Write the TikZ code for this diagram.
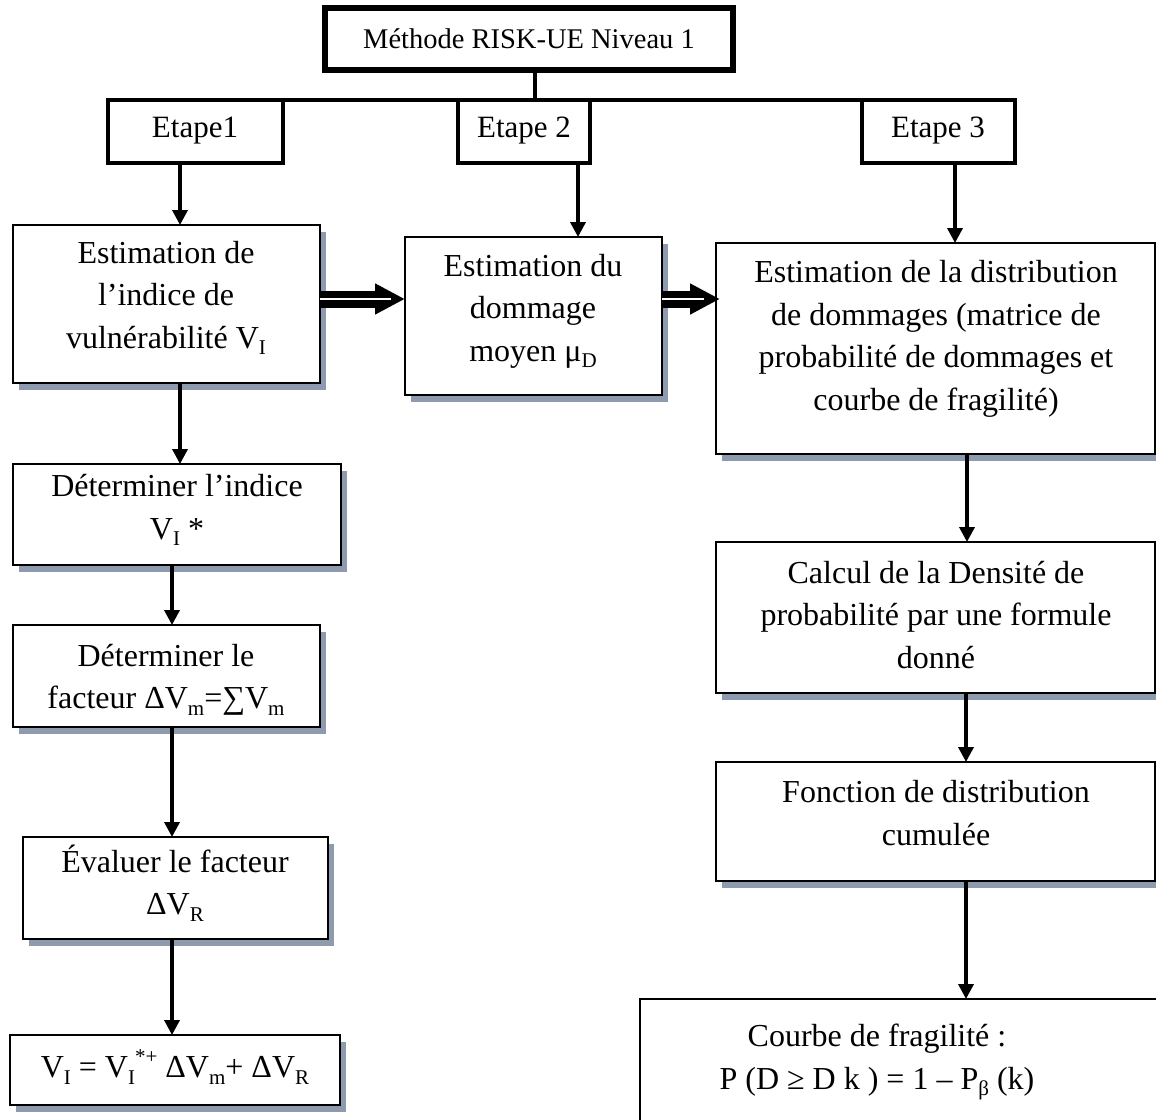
\documentclass[tikz,border=0pt]{standalone}
\usepackage{fontspec}
\setmainfont{Liberation Serif}
\usetikzlibrary{arrows.meta}
\definecolor{shc}{RGB}{142,155,174}
\newcommand\lo[1]{\raisebox{-0.2em}{\fontsize{21}{21}\selectfont #1}}
\newcommand\hi[1]{\raisebox{0.45em}{\fontsize{21}{21}\selectfont #1}}
\newcommand\mkbox[6]{\node[#1, minimum width={#5-#3}, minimum height={#6-#4}] (#2) at ({(#3+#5)/2},{(#4+#6)/2}) {};}
\begin{document}
\begin{tikzpicture}[x=1pt,y=-1pt,
  bx/.style={draw, line width=2.6pt, fill=white, inner sep=0pt, outer sep=0pt,
    preaction={fill=shc, transform canvas={xshift=6pt,yshift=-7pt}}},
  plainbx/.style={draw, line width=2.6pt, fill=white, inner sep=0pt, outer sep=0pt},
  etp/.style={draw, line width=4.5pt, fill=white, inner sep=0pt, outer sep=0pt},
  topbx/.style={draw, line width=6pt, fill=white, inner sep=0pt, outer sep=0pt},
  txt/.style={inner sep=0pt, align=center, font=\fontsize{32}{42.5}\selectfont},
  etxt/.style={inner sep=0pt, align=center, font=\fontsize{31}{40}\selectfont},
  ttxt/.style={inner sep=0pt, align=center, font=\fontsize{28.5}{36}\selectfont},
  arr/.style={line width=3.5pt, -{Triangle[width=15pt,length=15pt]}},
  dbl/.style={line width=17pt, -{Triangle[width=29pt,length=30pt]}},
  dblin/.style={white, line width=2.6pt, shorten >=14pt},
]
\useasboundingbox (0,0) rectangle (1156,1119);
\clip (0,0) rectangle (1156,1119);

% top and stages
\coordinate (hub) at (535,100);
\mkbox{topbx}{top}{325}{8}{733}{70}
\node[ttxt] (topt) at (529,39) {Méthode RISK-UE Niveau 1};
\draw[line width=4pt] (top.south -| hub) -- (hub);
\draw[line width=4pt] (108,100) coordinate (hl) -- (1015,100) coordinate (hr);

\mkbox{etp}{e1}{108}{100}{283}{163}
\node[etxt] (e1t) at (195,131) {Etape1};
\mkbox{etp}{e2}{458}{100}{590}{163}
\node[etxt] (e2t) at (524,131) {Etape 2};
\mkbox{etp}{e3}{862}{100}{1015}{163}
\node[etxt] (e3t) at (938,131) {Etape 3};

% left column
\mkbox{bx}{b1}{13}{225}{320}{383}
\node[txt] (b1t) at (166,298) {Estimation de\\l’indice de\\vulnérabilité V\lo{I}};
\mkbox{bx}{l2}{13}{464}{341}{565}
\node[txt] (l2t) at (177,510) {Déterminer l’indice\\V\lo{I} *};
\mkbox{bx}{l3}{13}{625}{320}{727}
\node[txt] (l3t) at (166,680) {Déterminer le\\facteur ΔV\lo{m}=∑V\lo{m}};
\mkbox{bx}{l4}{23}{837}{328}{939}
\node[txt] (l4t) at (175,883) {Évaluer le facteur\\ΔV\lo{R}};
\mkbox{bx}{l5}{10}{1035}{340}{1105}
\node[txt] (l5t) at (175,1067) {V\lo{I} = V\lo{I}\hi{*+} ΔV\lo{m}+ ΔV\lo{R}};

% middle
\mkbox{bx}{b2}{405}{237}{662}{395}
\node[txt] (b2t) at (533,311) {Estimation du\\dommage\\moyen μ\lo{D}};

% right column
\mkbox{bx}{b3}{716}{243}{1155}{454}
\node[txt] (b3t) at (936,339) {Estimation de la distribution\\de dommages (matrice de\\probabilité de dommages et\\courbe de fragilité)};
\mkbox{bx}{b4}{716}{542}{1155}{693}
\node[txt] (b4t) at (936,615) {Calcul de la Densité de\\probabilité par une formule\\donné};
\mkbox{bx}{b5}{716}{762}{1155}{881}
\node[txt] (b5t) at (936,813) {Fonction de distribution\\cumulée};
\mkbox{plainbx}{b6}{640}{999}{1180}{1150}
\node[txt] (b6t) at (877,1062) {Courbe de fragilité :\\P (D ≥ D k ) = 1 – P\lo{β} (k)};

% arrows
\draw[arr] (180,0 |- e1.south) -- (180,0 |- b1.north);
\draw[arr] (180,0 |- b1.south) -- (180,0 |- l2.north);
\draw[arr] (172,0 |- l2.south) -- (172,0 |- l3.north);
\draw[arr] (172,0 |- l3.south) -- (172,0 |- l4.north);
\draw[arr] (172,0 |- l4.south) -- (172,0 |- l5.north);
\draw[arr] (578,0 |- e2.south) -- (578,0 |- b2.north);
\draw[arr] (955,0 |- e3.south) -- (955,0 |- b3.north);
\draw[arr] (967,0 |- b3.south) -- (967,0 |- b4.north);
\draw[arr] (966,0 |- b4.south) -- (966,0 |- b5.north);
\draw[arr] (966,0 |- b5.south) -- (966,0 |- b6.north);

% double arrows
\draw[dbl] (b1.east |- 0,299) -- (b2.west |- 0,299);
\draw[dblin] (b1.east |- 0,299) -- (b2.west |- 0,299);
\draw[dbl, shorten >=-4pt] (b2.east |- 0,299) -- (b3.west |- 0,299);
\draw[dblin, shorten >=12pt] (b2.east |- 0,299) -- (b3.west |- 0,299);
\end{tikzpicture}
\end{document}
